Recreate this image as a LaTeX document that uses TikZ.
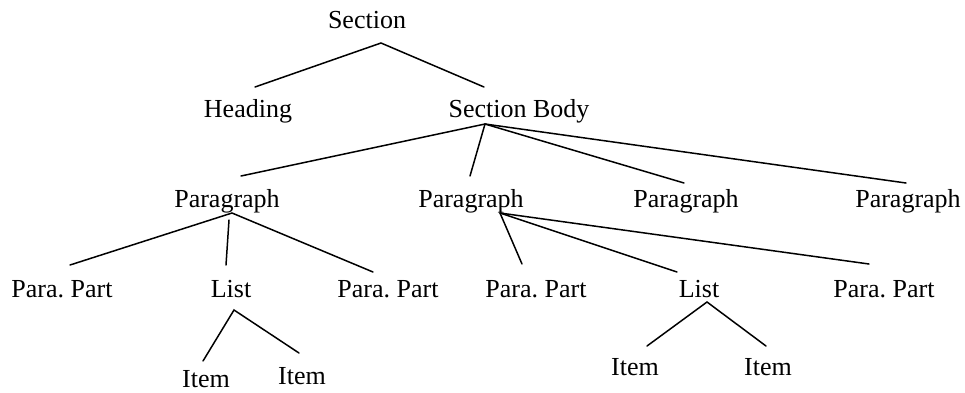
\documentclass[tikz,border=0pt]{standalone}
\usepackage{fontspec}
\setmainfont{Liberation Serif}
\frenchspacing
\begin{document}
\begin{tikzpicture}[x=1pt,y=-1pt,
  lbl/.style={anchor=base,inner sep=0pt,font=\fontsize{26}{30}\selectfont},
  edge/.style={line width=1.5pt,line cap=round}]
\useasboundingbox (0,0) rectangle (965,392);
% nodes
\node[lbl] (sec) at (367,28) {Section};
\node[lbl] (head) at (248,117) {Heading};
\node[lbl] (sb) at (519,117) {Section Body};
\node[lbl] (p1) at (227,207) {Paragraph};
\node[lbl] (p2) at (471,207) {Paragraph};
\node[lbl] (p3) at (686,207) {Paragraph};
\node[lbl] (p4) at (908,207) {Paragraph};
\node[lbl] (pp1) at (62,297) {Para.\ Part};
\node[lbl] (l1) at (231,297) {List};
\node[lbl] (pp2) at (388,297) {Para.\ Part};
\node[lbl] (pp3) at (536,297) {Para.\ Part};
\node[lbl] (l2) at (699,297) {List};
\node[lbl] (pp4) at (884,297) {Para.\ Part};
\node[lbl] (i1) at (206,387) {Item};
\node[lbl] (i2) at (302,384) {Item};
\node[lbl] (i3) at (635,375) {Item};
\node[lbl] (i4) at (768,375) {Item};
% connector end points
\coordinate (sec-b) at (381,43);
\coordinate (head-t) at (255,87);
\coordinate (sb-t) at (484,87);
\coordinate (sb-b) at (485,124);
\coordinate (p1-t) at (241,176);
\coordinate (p2-t) at (470,176);
\coordinate (p3-t) at (684,183);
\coordinate (p4-t) at (906,183);
\coordinate (p1-b) at (232,213);
\coordinate (p1-b2) at (229,220);
\coordinate (pp1-t) at (70,265);
\coordinate (l1-t) at (226,265);
\coordinate (pp2-t) at (373,272);
\coordinate (l1-b) at (234,310);
\coordinate (i1-t) at (203,361);
\coordinate (i2-t) at (299,353);
\coordinate (p2-b) at (500,213);
\coordinate (pp3-t) at (522,264);
\coordinate (l2-t) at (677,272);
\coordinate (pp4-t) at (869,264);
\coordinate (l2-b) at (707,302);
\coordinate (i3-t) at (647,346);
\coordinate (i4-t) at (766,346);
% connectors
\draw[edge] (head-t) -- (sec-b) -- (sb-t);
\draw[edge] (sb-b) -- (p1-t);
\draw[edge] (sb-b) -- (p2-t);
\draw[edge] (sb-b) -- (p3-t);
\draw[edge] (sb-b) -- (p4-t);
\draw[edge] (pp1-t) -- (p1-b) -- (pp2-t);
\draw[edge] (p1-b2) -- (l1-t);
\draw[edge] (i1-t) -- (l1-b) -- (i2-t);
\draw[edge] (p2-b) -- (pp3-t);
\draw[edge] (p2-b) -- (l2-t);
\draw[edge] (p2-b) -- (pp4-t);
\draw[edge] (i3-t) -- (l2-b) -- (i4-t);
\end{tikzpicture}
\end{document}
